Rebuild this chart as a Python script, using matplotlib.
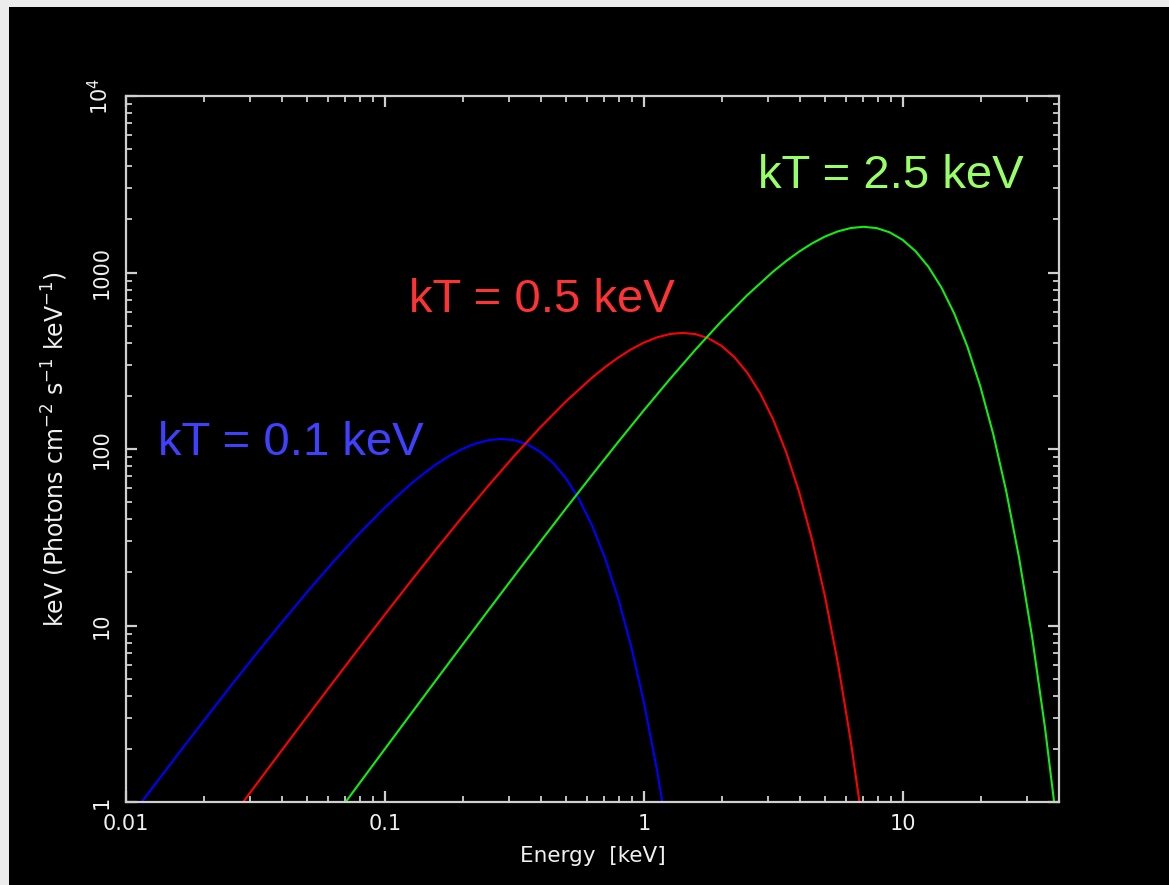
import matplotlib
matplotlib.use("Agg")
import matplotlib.pyplot as plt
from matplotlib.patches import Rectangle
from matplotlib.ticker import FixedLocator, FixedFormatter, LogLocator, NullFormatter

# ---- data (energy [keV], keV*flux) ----
e_01 = [0.01, 0.012589, 0.015849, 0.019953, 0.025119, 0.031623, 0.039811, 0.050119,
        0.063096, 0.079433, 0.1, 0.12589, 0.14125, 0.15849, 0.17783, 0.19953, 0.22387,
        0.25119, 0.28184, 0.31623, 0.35481, 0.39811, 0.44668, 0.50119, 0.56234, 0.63096,
        0.70795, 0.79433, 0.89125, 1.0, 1.12202, 1.25893]
f_01 = [0.7626, 1.1927, 1.8591, 2.8849, 4.4513, 6.8187, 10.348, 15.517, 22.908, 33.139,
        46.675, 63.459, 72.765, 82.316, 91.673, 100.26, 107.36, 112.21, 114.0, 112.10,
        106.15, 96.25, 83.04, 67.68, 51.70, 36.71, 23.99, 14.28, 7.649, 3.641, 1.518, 0.5454]

e_05 = [0.025059, 0.031548, 0.039716, 0.05, 0.062946, 0.079245, 0.099763, 0.125594,
        0.158114, 0.199054, 0.250594, 0.315479, 0.397164, 0.5, 0.629463, 0.706269,
        0.792447, 0.88914, 0.997631, 1.119361, 1.255943, 1.409192, 1.581139, 1.774067,
        1.990536, 2.233418, 2.505936, 2.811707, 3.154787, 3.539729, 3.971641, 4.456255,
        5.0, 5.610093, 6.294627, 7.062688]
f_05 = [0.7841, 1.2345, 1.9407, 3.0436, 4.7605, 7.4202, 11.514, 17.766, 27.215, 41.303,
        61.933, 91.430, 132.27, 186.29, 253.28, 290.42, 328.54, 365.89, 400.16, 428.52,
        447.85, 455.0, 447.41, 423.67, 384.16, 331.42, 270.12, 206.37, 146.51, 95.736,
        56.981, 30.528, 14.533, 6.0592, 2.1769, 0.6618]

e_25 = [0.062797, 0.079057, 0.099527, 0.125297, 0.15774, 0.198582, 0.25, 0.314732,
        0.396223, 0.498816, 0.627971, 0.790569, 0.995268, 1.252968, 1.577393, 1.98582,
        2.5, 3.147313, 3.531345, 3.962233, 4.445698, 4.988155, 5.596803, 6.279715,
        7.045958, 7.905695, 8.870335, 9.952679, 11.16709, 12.52968, 14.05853, 15.77393,
        17.69865, 19.8582, 22.28127, 25.0, 28.05046, 31.47314, 35.31344, 39.62233]
f_25 = [0.7956, 1.2569, 1.9838, 3.1279, 4.9246, 7.7415, 12.141, 18.990, 29.600, 45.931,
        70.872, 108.56, 164.76, 247.05, 364.72, 527.61, 743.13, 1010.36, 1158.52, 1310.58,
        1459.56, 1596.25, 1709.40, 1786.51, 1815.0, 1784.76, 1690.07, 1532.45, 1322.07,
        1077.52, 823.22, 584.42, 381.90, 227.30, 121.78, 57.974, 24.171, 8.6838, 2.6399,
        0.6653]

labels = ["kT = 0.1 keV", "kT = 0.5 keV", "kT = 2.5 keV"]
x_ticks = [0.01, 0.1, 1, 10]
x_ticklabels = ["0.01", "0.1", "1", "10"]
y_ticks = [1, 10, 100, 1000, 10000]
y_ticklabels = ["1", "10", "100", "1000", "10$^4$"]

W, H = 1169, 885
fig = plt.figure(figsize=(W / 100, H / 100), dpi=100, facecolor="#ececec")
bg = Rectangle((9 / W, 0), 1 - 9 / W, 1 - 7 / H, transform=fig.transFigure,
               facecolor="black", edgecolor="none", zorder=-10)
fig.patches.append(bg)

L, R, T, B = 126, 1059, 96, 802
ax = fig.add_axes([L / W, 1 - B / H, (R - L) / W, (B - T) / H])
ax.set_facecolor("black")

ax.plot(e_01, f_01, color="#0000ff", lw=1.5)
ax.plot(e_05, f_05, color="#ff0000", lw=1.5)
ax.plot(e_25, f_25, color="#11ee11", lw=1.5)

ax.set_xscale("log")
ax.set_yscale("log")
ax.set_xlim(0.01, 40)
ax.set_ylim(1, 1e4)

axis_col = "#cfcfcf"
for s in ax.spines.values():
    s.set_color(axis_col)
    s.set_linewidth(1.6)

ax.xaxis.set_major_locator(FixedLocator(x_ticks))
ax.xaxis.set_major_formatter(FixedFormatter(x_ticklabels))
ax.yaxis.set_major_locator(FixedLocator(y_ticks))
ax.yaxis.set_major_formatter(FixedFormatter(y_ticklabels))
ax.xaxis.set_minor_locator(LogLocator(base=10, subs=range(2, 10), numticks=20))
ax.yaxis.set_minor_locator(LogLocator(base=10, subs=range(2, 10), numticks=20))
ax.xaxis.set_minor_formatter(NullFormatter())
ax.yaxis.set_minor_formatter(NullFormatter())

ax.tick_params(which="both", direction="in", top=True, right=True, colors=axis_col,
               labelcolor="#f0f0f0")
ax.tick_params(which="major", length=8, width=1.6, labelsize=15)
ax.tick_params(which="minor", length=4, width=1.3)
ax.tick_params(axis="x", which="major", pad=9)
ax.tick_params(axis="y", which="major", pad=10)
for lab in ax.get_yticklabels():
    lab.set_rotation(90)
    lab.set_va("center")

ax.set_xlabel("Energy  [keV]", color="#f0f0f0", fontsize=15.5, labelpad=8)
ax.set_ylabel("keV (Photons cm$^{-2}$ s$^{-1}$ keV$^{-1}$)", color="#f0f0f0",
              fontsize=17, labelpad=12)

txt_kw = dict(fontsize=34, family="Liberation Sans", ha="left", va="baseline")
fig.text(158 / W, 1 - 455 / H, labels[0], color="#4040ff", **txt_kw)
fig.text(409 / W, 1 - 312 / H, labels[1], color="#ff3333", **txt_kw)
fig.text(758 / W, 1 - 188 / H, labels[2], color="#99ff66", **txt_kw)

fig.savefig("out.png", dpi=100, facecolor=fig.get_facecolor())
